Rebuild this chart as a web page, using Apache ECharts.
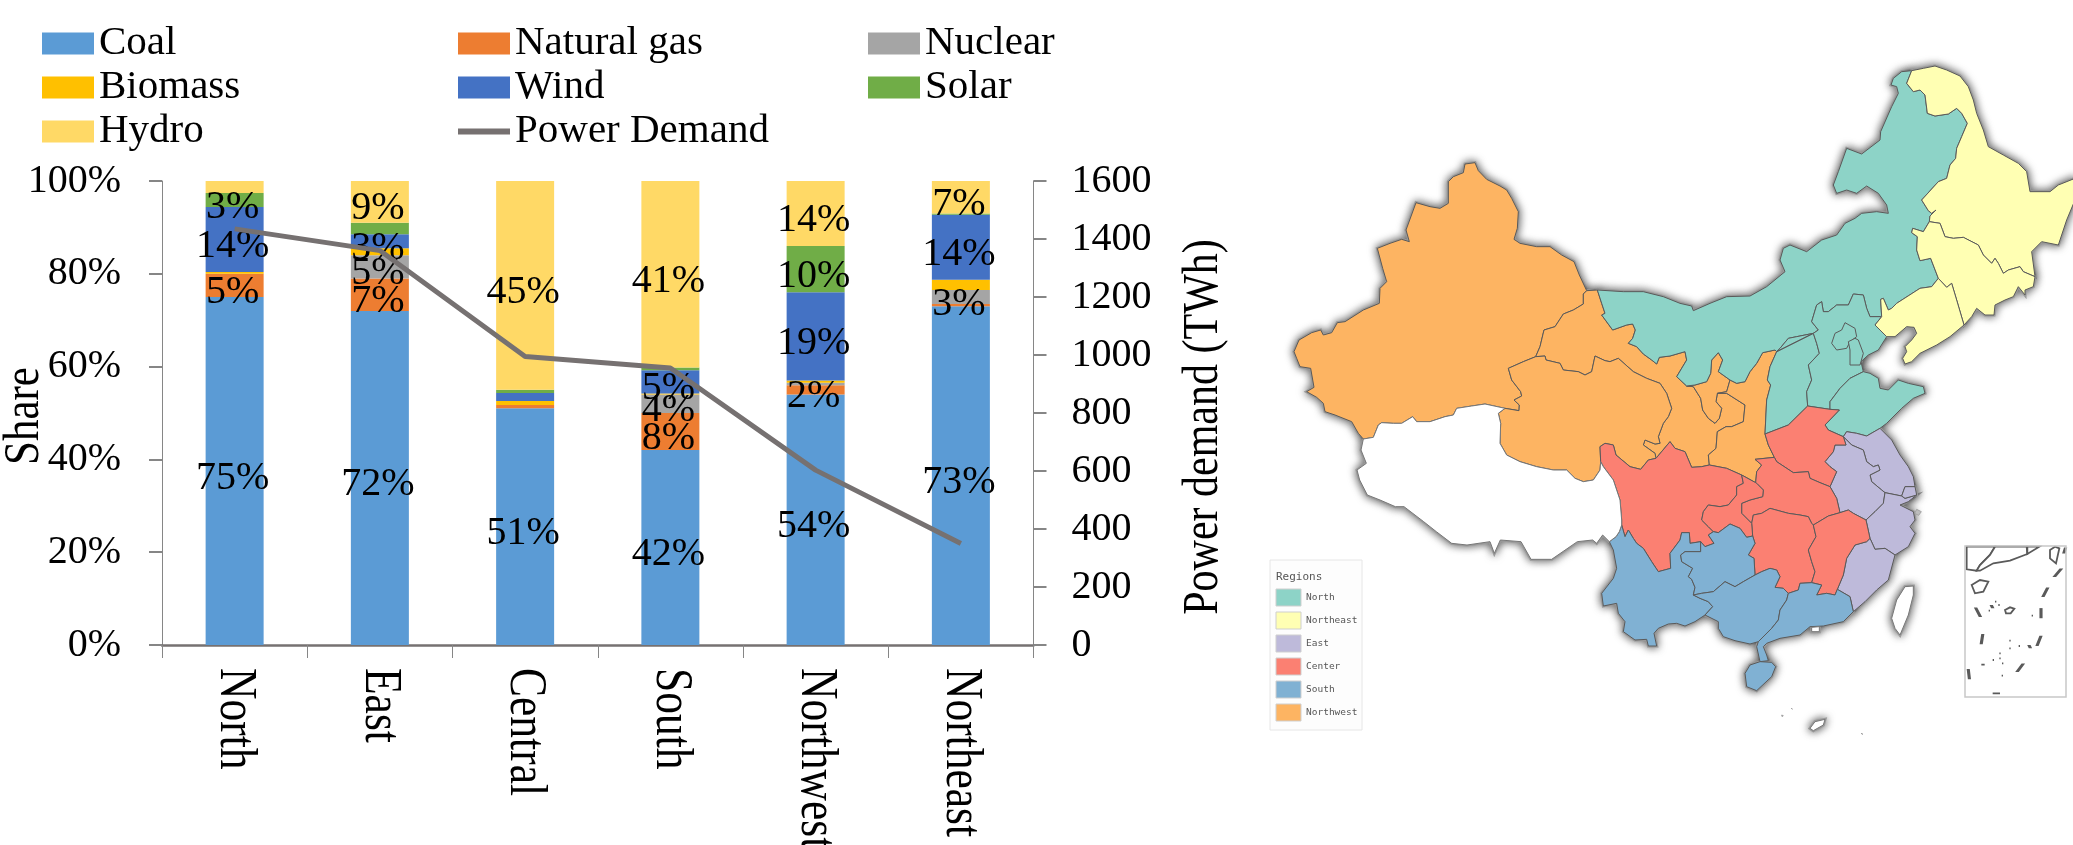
<!DOCTYPE html>
<html>
<head>
<meta charset="utf-8">
<title>Power generation mix and demand by region</title>
<script src="https://cdn.jsdelivr.net/npm/echarts@6/dist/echarts.min.js"></script>
<style>html,body{margin:0;padding:0;background:#fff}#chart{width:2073px;height:845px}</style>
</head>
<body>
<div id="chart"></div>
<script>
// ---- Chart data ----
const regions = ['North', 'East', 'Central', 'South', 'Northwest', 'Northeast'];
const coal = [75, 72, 51, 42, 54, 73];
const naturalGas = [5, 7, 0.7, 8, 2, 0.5];
const nuclear = [0, 5, 0, 4, 0.5, 3];
const biomass = [0.4, 1.5, 0.9, 0.2, 0.5, 2.2];
const wind = [14, 3, 1.7, 5, 19, 14];
const solar = [3, 2.5, 0.7, 0.6, 10, 0.3];
const hydro = [2.6, 9, 45, 41, 14, 7];
const powerDemand = [1435, 1360, 995, 955, 603, 350];
const shareTicks = { min: 0, max: 100, interval: 20 };
const demandTicks = { min: 0, max: 1600, interval: 200 };

const mapLegendNames = ['North', 'Northeast', 'East', 'Center', 'South', 'Northwest'];
const mapLegendColors = ['#8dd3c7', '#ffffb3', '#bebada', '#fb8072', '#80b1d3', '#fdb462'];

const SERIF = '"Liberation Serif","Times New Roman",serif';

// ---- Map outlines: shared borders, so neighbouring provinces meet exactly ----
const frames = { A: [0, 300], B: [1200, 0], C: [870, 840], D: [870, 1350], I: [1980, 1440] };
const toMap = (frame, text) => text.trim().split(/\s+/).map(p => {
  const [x, y] = p.split(',').map(Number);
  return [1290 + (x + frames[frame][0]) / 3, -(50 + (y + frames[frame][1]) / 3)];
});
const borders = {
  XJ_out: ['A', '890,422 868,375 852,335 815,315 780,290 740,290 690,280 672,268 682,235 685,185 665,145 650,120 630,108 590,88 565,62 555,38 525,42 520,68 490,80 475,95 475,160 450,175 420,170 378,158 348,240 358,275 335,268 300,280 262,295 278,355 290,395 270,415 268,460 220,480 165,515 142,518 125,548 100,555 92,540 65,548 27,570 12,605 20,625 30,650 62,655 72,712 50,725 80,742 100,760 105,785 135,795 185,815 205,850 220,867'],
  XJ_TB: ['A', '220,867 250,862 265,825 275,818 310,820 335,820 368,800 380,815 420,815 465,800 490,795 500,775 545,768 585,762 645,775'],
  XJ_QH: ['A', '645,775 687,782 688,765 672,750 695,738 692,725 665,690 655,655 700,635 737,620'],
  XJ_GS: ['A', '737,620 750,590 762,540 795,530 820,492 850,480 880,462 880,432 890,422'],
  GS_top: ['A', '890,422 922,420'],
  NW_IM: ['A', '922,420 935,460 945,490 935,495 968,540 1010,525 1028,522 1036,540 1028,565 1015,580 1040,590 1060,612 1085,630 1100,642 1108,622 1140,618 1185,605 1190,630 1160,680 1190,708'],
  NX_IM: ['C', '320,168 345,165 380,155 392,130 395,90 415,68 428,90 415,125 450,150'],
  GS_NX: ['C', '320,168 340,170 362,205 368,240 385,265 405,280 418,265 425,235 408,215 412,190'],
  NX_SX: ['C', '412,190 440,185 450,150'],
  GS_SX: ['C', '412,190 440,190 495,225 490,275 455,290 438,290 412,305 408,355 385,375 388,405'],
  GS_SC: ['C', '228,385 270,335 285,355 315,365 335,412 365,410 388,405'],
  QH_GS: ['A', '737,620 765,618 768,630 810,640 820,660 865,665 885,675 905,665 915,618 945,632 960,635 985,625 1030,665 1070,685 1110,700 1130,730 1145,775 1135,800 1120,820 1105,860 1110,880 1095,882 1065,870 1060,885 1095,910 1098,925'],
  QH_TB: ['C', '-225,235 -245,250 -238,280 -240,340 -220,375 -180,395 -130,410 -80,420 -40,420 -15,445 10,455 40,450 60,420 62,395'],
  QH_SC: ['C', '62,395 60,350 75,340 100,345 108,375 150,410 182,418 205,390 228,385'],
  SX_IM: ['C', '450,150 470,160 495,155 510,125 530,100 548,68 585,60 590,65'],
  SX_SXI: ['C', '590,65 570,110 562,150 572,165 560,210 555,312'],
  SX_HN: ['C', '555,312 565,345 583,382'],
  SX_HB: ['C', '583,382 525,388 545,405 530,425 527,458'],
  SX_SCQ: ['C', '527,458 485,435'],
  SX_SC: ['C', '485,435 440,415 388,405'],
  IM_N1: ['A', '922,420 1000,425 1060,425 1120,440 1170,460 1205,468 1210,482'],
  IM_N2: ['B', '60,760 110,740 180,738 230,710 285,665 270,630 280,595 300,585 350,605 395,570 440,555 465,520 495,505 515,490 560,485 595,490 590,465 565,430 530,408 500,430 470,420 440,430 430,405 445,365 470,295 515,312 570,270 572,245 605,170 625,130 620,110 603,105 610,85 635,65 665,62'],
  IM_HLJ: ['B', '665,62 650,100 670,125 690,120 705,135 712,190 735,198 775,192 800,175 815,190 832,220 815,260 800,295 797,325 780,345 770,385 745,395 695,450 715,482 725,490 738,480 720,498 718,515'],
  IM_JL: ['B', '718,515 700,545 668,535 665,548 682,560 680,600 690,632 722,625 745,685'],
  IM_LN: ['B', '745,685 725,710 690,715 620,760 605,775 595,780 580,745 572,748 575,800'],
  IM_HB: ['B', '575,800 540,800 530,775 520,735 490,732 475,765 440,765 415,785 400,785 395,755 380,765 365,815 385,840 370,850'],
  IM_SXI: ['B', '370,850 320,860 295,865 270,895 260,905'],
  HLJ_out: ['B', '665,62 700,55 735,48 770,60 810,78 835,110 850,150 860,190 880,240 895,290 940,315 985,340 1010,365 1020,425 1080,425 1105,405 1155,385 1155,450 1130,510 1105,585 1055,575 1025,605 1035,680'],
  HLJ_JL: ['B', '1035,680 1000,665 990,650 955,660 940,670 925,640 915,625 905,640 880,615 865,585 820,562 790,565 765,560 750,520 718,515'],
  JL_E: ['B', '1035,680 1030,710 1005,720 1005,735 985,710 970,740 945,750 915,765 912,795 885,795 860,775 845,800 822,825'],
  JL_LN: ['B', '822,825 800,750 785,700 770,712 745,685'],
  LN_S: ['B', '822,825 780,860 740,885 690,910 665,935 645,942 638,925 650,905 645,890 665,870 680,850 672,832 650,830 615,860 590,860'],
  HB_LN: ['B', '590,860 555,825 575,800'],
  HB_coast: ['C', '920,20 895,60 865,75 843,95 850,125'],
  HB_SD: ['C', '750,238 750,215 780,175 810,145 850,125'],
  HB_HN: ['C', '750,238 683,228'],
  HB_SXI: ['C', '683,228 680,185 695,150 685,105 718,70 710,40 700,10'],
  SXI_HN: ['C', '555,312 625,285 683,228'],
  SD_coast: ['C', '850,125 870,130 895,145 900,175 925,180 955,150 985,160 1030,170 1035,190 1000,205 965,235 920,280 900,295'],
  SD_JS: ['C', '900,295 860,318 830,310 800,305 790,320'],
  HN_SD: ['C', '790,320 745,300 735,285 778,240 750,238'],
  HN_AH: ['C', '790,320 798,345 765,345 760,365 735,395 750,410 770,425 750,470'],
  HN_HB: ['C', '583,382 590,395 640,428 685,425 690,445 720,458 750,470'],
  JS_coast: ['C', '900,295 935,330 960,375 985,410 1000,440 1005,470 975,470 965,498 915,488'],
  AH_JS: ['C', '790,320 815,345 850,360 860,395 880,410 895,405 900,420 870,435 875,455 905,480 915,488'],
  AH_ZJ: ['C', '858,570 885,545 910,520 915,488'],
  JX_AH: ['C', '780,548 805,540 820,550 858,570'],
  AH_HB: ['C', '750,470 770,505 780,548'],
  ZJ_coast: ['C', '915,488 965,498 975,505 1010,495 985,515 960,525 1000,545 1005,570 990,590 1005,610 985,650 945,675'],
  ZJ_FJ: ['C', '945,675 915,655 885,658 870,625'],
  JX_ZJ: ['C', '870,625 858,570'],
  FJ_coast: ['D', '945,165 925,240 890,270 855,305 820,335'],
  FJ_GD: ['D', '820,335 810,290 772,268'],
  JX_FJ: ['D', '870,115 860,125 825,135 800,175 790,225 772,268'],
  JX_GD: ['D', '772,268 765,285 740,280 710,285 725,255 695,248'],
  HUN_JX: ['D', '695,248 705,215 695,185 685,150 708,110 700,75'],
  JX_HUB: ['C', '700,585 745,558 780,548'],
  HUB_HUN: ['C', '700,585 695,580 685,560 660,555 625,550 570,535 545,550 520,555 515,580'],
  CQ_HUB: ['C', '515,580 485,550 485,520 510,510 548,500 550,480 530,460 527,458'],
  HUN_GD: ['D', '695,248 660,250 655,270 625,280'],
  GX_HUN: ['D', '525,225 545,215 570,205 590,210 600,230 585,262 610,265 625,280'],
  GZ_HUN: ['D', '525,225 522,175 505,165 525,130 518,108'],
  CQ_HUN: ['D', '518,108 515,70'],
  SC_CQ: ['C', '485,435 490,460 470,470 470,495 445,525 420,530 385,525 370,545 365,570 385,590 400,605'],
  CQ_GZ: ['C', '400,605 415,608 450,582 480,595 500,622 518,618'],
  SC_GZ: ['D', '400,95 385,105 402,130 375,140 362,125'],
  SC_YN: ['D', '362,125 330,130 328,98 305,98 300,120 270,160 272,205 235,215 215,185 190,145 170,130 160,115 145,90 135,110 125,75'],
  SC_TB: ['C', '125,585 125,570 120,510 110,480 100,450 70,410 62,395'],
  TB_YN: ['D', '125,75 118,95 108,110 88,125'],
  TB_S: ['D', '88,125 68,105 50,130 38,120 -8,125 -85,178 -147,178 -177,125 -239,120 -257,160 -270,125 -339,135 -385,130 -431,95 -469,65 -528,20 -554,20 -600,0 -638,-15 -661,-60 -669,-90 -641,-110 -657,-150 -650,-183'],
  YN_GZ: ['D', '362,125 362,155 315,155 302,165 305,185 338,205 325,230 335,238 345,262 340,285'],
  YN_GX: ['D', '340,285 360,295 385,305 398,320 375,345'],
  YN_S: ['D', '375,345 345,365 315,378 290,370 265,372 235,385 222,400 230,438 205,438 200,418 165,420 130,395 135,365 115,340 110,310 70,318 65,280 100,235 110,205 100,150 88,125'],
  GZ_GX: ['D', '340,285 365,280 400,275 435,245 465,260 490,245 525,225'],
  GX_GD: ['D', '625,280 620,300 600,330 595,360 575,385 540,420 535,425'],
  GX_coast: ['D', '535,425 510,432 465,422 430,410 415,385 415,365 375,345'],
  GD_coast: ['D', '820,335 790,365 730,378 690,380 660,405 600,415 560,430 550,440 560,465 565,482 540,485 530,440 535,425']
};
const ring = keys => {
  const pts = [];
  keys.forEach(k => {
    const rev = k[0] === '-';
    const [frame, text] = borders[rev ? k.slice(1) : k];
    const seg = toMap(frame, text);
    pts.push(...(rev ? seg.reverse() : seg));
  });
  pts.push(pts[0]);
  return pts;
};
const loop = (frame, text) => {
  const pts = toMap(frame, text);
  pts.push(pts[0]);
  return pts;
};

const provinces = [
  ['Xinjiang', 'Northwest', ring(['XJ_out', 'XJ_TB', 'XJ_QH', 'XJ_GS'])],
  ['Gansu', 'Northwest', ring(['GS_top', 'NW_IM', 'GS_NX', 'GS_SX', '-GS_SC', '-QH_GS', 'XJ_GS'])],
  ['Qinghai', 'Northwest', ring(['-XJ_QH', 'QH_TB', 'QH_SC', '-QH_GS'])],
  ['Ningxia', 'Northwest', ring(['NX_IM', '-NX_SX', '-GS_NX'])],
  ['Shaanxi', 'Northwest', ring(['SX_IM', 'SX_SXI', 'SX_HN', 'SX_HB', 'SX_SCQ', 'SX_SC', '-GS_SX', 'NX_SX'])],
  ['Inner Mongolia', 'North', ring(['IM_N1', 'IM_N2', 'IM_HLJ', 'IM_JL', 'IM_LN', 'IM_HB', 'IM_SXI', '-SX_IM', '-NX_IM', '-NW_IM'])],
  ['Shanxi', 'North', ring(['SX_SXI', 'SXI_HN', 'HB_SXI', '-IM_SXI'])],
  ['Hebei', 'North', ring(['-IM_HB', '-HB_LN', 'HB_coast', '-HB_SD', 'HB_HN', 'HB_SXI'])],
  ['Shandong', 'North', ring(['HB_SD', 'SD_coast', 'SD_JS', 'HN_SD'])],
  ['Beijing', 'North', loop('B', '465,818 495,835 500,860 480,875 470,895 440,900 425,880 435,850 455,840')],
  ['Tianjin', 'North', loop('B', '475,875 495,865 505,870 520,910 510,945 480,945 480,900')],
  ['Heilongjiang', 'Northeast', ring(['HLJ_out', 'HLJ_JL', '-IM_HLJ'])],
  ['Jilin', 'Northeast', ring(['-HLJ_JL', 'JL_E', 'JL_LN', '-IM_JL'])],
  ['Liaoning', 'Northeast', ring(['-JL_LN', 'LN_S', 'HB_LN', '-IM_LN'])],
  ['Jiangsu', 'East', ring(['-SD_JS', 'JS_coast', '-AH_JS'])],
  ['Anhui', 'East', ring(['AH_JS', '-AH_ZJ', '-JX_AH', '-AH_HB', '-HN_AH'])],
  ['Zhejiang', 'East', ring(['AH_ZJ', 'ZJ_coast', 'ZJ_FJ', 'JX_ZJ'])],
  ['Fujian', 'East', ring(['-ZJ_FJ', 'FJ_coast', 'FJ_GD', '-JX_FJ'])],
  ['Shanghai', 'East', loop('C', '975,470 1005,470 1010,495 975,505 965,498')],
  ['Henan', 'Center', ring(['-HB_HN', '-HN_SD', 'HN_AH', '-HN_HB', '-SX_HN', 'SXI_HN'])],
  ['Hubei', 'Center', ring(['-SX_HB', 'HN_HB', 'AH_HB', '-JX_HUB', 'HUB_HUN', 'CQ_HUB'])],
  ['Hunan', 'Center', ring(['-HUB_HUN', '-HUN_JX', 'HUN_GD', '-GX_HUN', 'GZ_HUN', 'CQ_HUN'])],
  ['Jiangxi', 'Center', ring(['JX_AH', '-JX_ZJ', 'JX_FJ', 'JX_GD', 'HUN_JX', 'JX_HUB'])],
  ['Sichuan', 'Center', ring(['QH_SC', 'GS_SC', '-SX_SC', 'SC_CQ', 'SC_GZ', 'SC_YN', 'SC_TB'])],
  ['Chongqing', 'Center', ring(['SX_SCQ', 'SC_CQ', 'CQ_GZ', 'CQ_HUN', 'CQ_HUB'])],
  ['Yunnan', 'South', ring(['-SC_YN', 'YN_GZ', 'YN_GX', 'YN_S', '-TB_YN'])],
  ['Guizhou', 'South', ring(['-SC_GZ', 'CQ_GZ', '-GZ_HUN', '-GZ_GX', '-YN_GZ'])],
  ['Guangxi', 'South', ring(['GZ_GX', 'GX_HUN', 'GX_GD', 'GX_coast', '-YN_GX'])],
  ['Guangdong', 'South', ring(['-GX_GD', '-HUN_GD', '-JX_GD', '-FJ_GD', 'GD_coast'])],
  ['Hainan', 'South', loop('D', '510,495 540,485 575,487 587,500 575,530 530,572 500,560 495,520')],
  ['Tibet', null, ring(['XJ_TB', 'QH_TB', '-SC_TB', 'TB_YN', 'TB_S'])],
  ['Taiwan', null, loop('D', '975,260 1000,258 1000,285 985,345 960,405 945,385 935,355 950,300')],
  ['Hong Kong', null, loop('D', '695,382 718,380 718,395 695,395')],
  ['Dongsha', null, loop('D', '690,685 705,665 735,658 730,675 700,692')]
];

// South China Sea inset: coast, islands and dashes
const insetLoops = [
  '50,50 135,50 120,75 90,105 80,122 50,118',
  '135,50 230,50 232,72 180,92 130,100 90,122 80,122 90,105 120,75',
  '232,50 268,50 232,72',
  '65,165 90,150 115,155 100,185 75,190',
  '300,60 315,50 328,55 318,100 300,85',
  '165,240 180,232 193,236 182,250 168,250'
];
const insetDashes = [
  '78,235 90,258', '98,315 94,340', '55,420 58,445', '218,403 203,423', '272,320 262,345',
  '273,237 273,262', '292,175 280,198', '332,118 315,138', '346,55 342,68', '130,490 148,490',
  '125,228 127,232', '137,215 139,218', '118,242 120,244', '147,225 149,228', '247,257 249,259',
  '180,332 182,334', '180,355 182,358', '208,348 210,350', '238,348 240,352', '150,370 151,372',
  '150,385 152,387', '130,390 132,391', '158,400 160,402', '96,404 102,404', '157,437 159,438'
];
const thinShape = s => {
  const [a, b] = s.split(' ').map(p => p.split(',').map(Number));
  return `${a[0] - 2},${a[1]} ${a[0] + 2},${a[1]} ${b[0] + 2},${b[1]} ${b[0] - 2},${b[1]}`;
};
insetLoops.concat(insetDashes.map(thinShape)).forEach((s, i) => {
  provinces.push(['inset' + i, 'inset', loop('I', s)]);
});
const specks = ['605,645 610,647 606,650', '634,624 637,628 634,630', '843,700 849,703 846,706', '1010,538 1024,545 1016,556 1004,550'];
specks.forEach((s, i) => provinces.push(['speck' + i, 'speck', loop(i === 3 ? 'C' : 'D', s)]));

echarts.registerMap('chinaRegions', {
  type: 'FeatureCollection',
  features: provinces.map(([name, , coords]) => ({
    type: 'Feature',
    properties: { name },
    geometry: { type: 'Polygon', coordinates: [coords] }
  }))
});

const regionColor = r => {
  const i = mapLegendNames.indexOf(r);
  return i >= 0 ? mapLegendColors[i] : '#ffffff';
};
const topRegions = provinces.map(([name, region]) => {
  if (region === 'inset') {
    return { name, itemStyle: { areaColor: '#ffffff', borderColor: '#5a5a5a', borderWidth: 1.8 } };
  }
  if (region === 'speck') {
    return { name, itemStyle: { areaColor: '#bdbdbd', borderColor: '#999', borderWidth: 0.8 } };
  }
  if (region === null) {
    return { name, itemStyle: { areaColor: '#ffffff', borderColor: '#777', borderWidth: 1 } };
  }
  return { name, itemStyle: { areaColor: regionColor(region) } };
});
const baseRegions = provinces.map(([name, region]) => (
  region === 'inset' || region === 'speck'
    ? { name, itemStyle: { opacity: 0, shadowBlur: 0, borderWidth: 0 } }
    : { name }
));
const geoFrame = {
  map: 'chinaRegions',
  roam: false,
  silent: true,
  aspectScale: 1,
  boundingCoords: [[1000, 0], [2100, -845]],
  left: 1000, top: 0, width: 1100, height: 845
};

// ---- Stacked shares and demand line ----
const barSeries = (name, values, color) => ({
  name,
  type: 'bar',
  stack: 'share',
  yAxisIndex: 0,
  barWidth: 58,
  z: 2,
  itemStyle: { color, borderWidth: 0 },
  // Whole-number shares carry a label; thin slivers stay unlabelled
  data: values.map(v => ({
    value: v,
    label: { show: Number.isInteger(v) && v > 0 }
  })),
  label: {
    position: 'inside',
    offset: [-2, 7],
    formatter: p => p.value + '%',
    fontFamily: SERIF,
    fontSize: 40,
    color: '#000'
  }
});
// The demand entry shows only its line, so its marker is fully transparent
const legendEntry = n => (n === 'Power Demand'
  ? {
      name: n,
      itemStyle: { color: 'rgba(0,0,0,0)', borderWidth: 0 },
      lineStyle: { color: '#767171', width: 6 }
    }
  : { name: n, icon: 'rect' });
const legendColumn = (left, names) => ({
  left,
  top: 23,
  orient: 'vertical',
  selectedMode: false,
  itemWidth: 52,
  itemHeight: 22,
  itemGap: 3,
  padding: 0,
  textStyle: { fontFamily: SERIF, fontSize: 41, color: '#000' },
  data: names.map(legendEntry)
});
const axisGray = '#868686';
const tickLabel = { fontFamily: SERIF, fontSize: 40, color: '#000', padding: [5, 0, 0, 0] };

const chart = echarts.init(document.getElementById('chart'), null, { renderer: 'canvas' });
chart.setOption({
  animation: false,
  backgroundColor: '#fff',
  grid: { left: 162, top: 181, width: 871.5, height: 464, containLabel: false },
  legend: [
    legendColumn(42, ['Coal', 'Biomass', 'Hydro']),
    legendColumn(455, ['Natural gas', 'Wind', 'Power Demand']),
    legendColumn(868, ['Nuclear', 'Solar'])
  ],
  xAxis: {
    type: 'category',
    data: regions,
    axisLine: { lineStyle: { color: '#767171', width: 2.5 } },
    axisTick: { show: true, length: 13, alignWithLabel: false, lineStyle: { color: axisGray } },
    axisLabel: { show: false }
  },
  yAxis: [
    {
      type: 'value',
      ...shareTicks,
      splitLine: { show: false },
      axisLine: { show: true, lineStyle: { color: axisGray } },
      axisTick: { show: true, length: 13, lineStyle: { color: axisGray, width: 2 } },
      axisLabel: { ...tickLabel, margin: 41, formatter: '{value}%' }
    },
    {
      type: 'value',
      position: 'right',
      ...demandTicks,
      splitLine: { show: false },
      axisLine: { show: true, lineStyle: { color: axisGray } },
      axisTick: { show: true, length: 13, lineStyle: { color: axisGray, width: 2 } },
      axisLabel: { ...tickLabel, margin: 38, formatter: v => String(v) }
    }
  ],
  geo: [
    Object.assign({}, geoFrame, {
      z: 1,
      itemStyle: {
        areaColor: '#fff', borderColor: '#9a9a9a', borderWidth: 3,
        shadowBlur: 9, shadowColor: 'rgba(0,0,0,0.6)'
      },
      regions: baseRegions
    }),
    Object.assign({}, geoFrame, {
      z: 2,
      itemStyle: { areaColor: '#fff', borderColor: '#5a5a5a', borderWidth: 1 },
      regions: topRegions
    })
  ],
  series: [
    barSeries('Coal', coal, '#5b9bd5'),
    barSeries('Natural gas', naturalGas, '#ed7d31'),
    barSeries('Nuclear', nuclear, '#a5a5a5'),
    barSeries('Biomass', biomass, '#ffc000'),
    barSeries('Wind', wind, '#4472c4'),
    barSeries('Solar', solar, '#70ad47'),
    barSeries('Hydro', hydro, '#ffd966'),
    {
      name: 'Power Demand',
      type: 'line',
      yAxisIndex: 1,
      z: 3,
      symbol: 'none',
      showSymbol: false,
      lineStyle: { color: '#767171', width: 5 },
      itemStyle: { color: '#767171' },
      data: powerDemand
    }
  ]
});

// ---- Tall rotated captions and the map's key ----
const rotated = (text, x, y, rotation, align, size) => ({
  type: 'text',
  x, y,
  rotation,
  scaleY: 1.2,
  z: 20,
  style: {
    text,
    fill: '#000',
    font: `${size}px ${SERIF}`,
    align,
    verticalAlign: 'middle'
  }
});
const categoryLabels = regions.map(r =>
  rotated(r, chart.convertToPixel({ xAxisIndex: 0 }, r), 668, -Math.PI / 2, 'left', 43.5)
);
const mapKey = [
  {
    type: 'rect',
    z: 20,
    shape: { x: 1270, y: 560, width: 92, height: 170 },
    style: { fill: '#fdfdfd', stroke: '#e6e6e6', lineWidth: 1 }
  },
  {
    type: 'text', z: 21, x: 1276, y: 577,
    style: { text: 'Regions', fill: '#555', font: '11px "DejaVu Sans Mono",monospace', verticalAlign: 'middle' }
  }
];
mapLegendNames.forEach((name, i) => {
  const rowTop = 589 + i * 23;
  mapKey.push({
    type: 'rect', z: 21,
    shape: { x: 1276, y: rowTop, width: 25, height: 17 },
    style: { fill: mapLegendColors[i], stroke: '#cfcfcf', lineWidth: 1 }
  });
  mapKey.push({
    type: 'text', z: 21, x: 1306, y: rowTop + 9,
    style: { text: name, fill: '#555', font: '9.5px "DejaVu Sans Mono",monospace', verticalAlign: 'middle' }
  });
});
const insetFrame = {
  type: 'rect', z: 20,
  shape: { x: 1965, y: 546, width: 101, height: 151 },
  style: { fill: 'none', stroke: '#c8c8c8', lineWidth: 1.5 }
};
chart.setOption({
  graphic: [
    rotated('Share', 24, 416, Math.PI / 2, 'center', 43),
    rotated('Power demand (TWh)', 1204, 427, Math.PI / 2, 'center', 42),
    ...categoryLabels,
    ...mapKey,
    insetFrame
  ]
});
</script>
</body>
</html>
